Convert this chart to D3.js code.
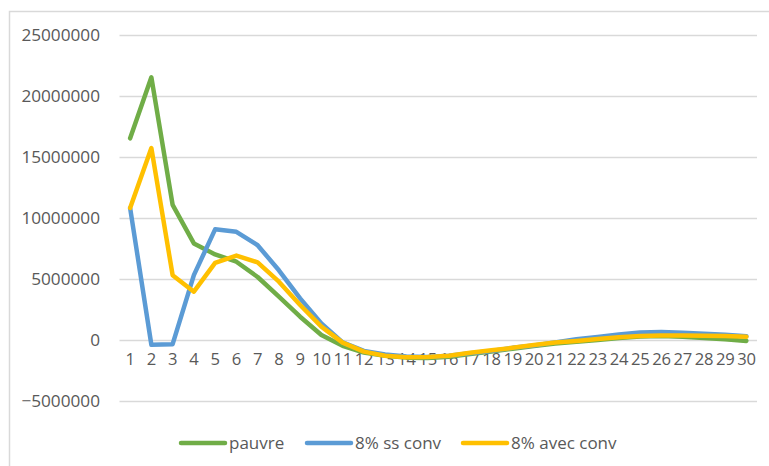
<!DOCTYPE html>
<html>
<head>
<meta charset="utf-8">
<script src="https://cdn.jsdelivr.net/npm/d3@7"></script>
<style>
  html, body { margin: 0; padding: 0; background: #fff; }
  svg { display: block; font-family: "Open Sans", "Liberation Sans", sans-serif; }
</style>
</head>
<body>
<svg id="chart" width="769" height="466"></svg>
<script>
const categories = d3.range(1, 31).map(String);
const seriesNames = ["pauvre", "8% ss conv", "8% avec conv"];
const pauvre = [16500000, 21500000, 11050000, 7900000, 7000000, 6400000, 5150000, 3550000, 1900000, 400000,
  -480000, -1030000, -1300000, -1450000, -1480000, -1380000, -1150000, -950000, -720000, -500000,
  -300000, -150000, 0, 150000, 280000, 320000, 250000, 150000, 50000, -80000];
const ssConv = [10800000, -400000, -350000, 5300000, 9050000, 8850000, 7750000, 5700000, 3400000, 1350000,
  -200000, -900000, -1200000, -1350000, -1400000, -1300000, -1100000, -900000, -650000, -450000,
  -200000, 50000, 250000, 450000, 600000, 640000, 580000, 500000, 420000, 300000];
const avecConv = [10800000, 15700000, 5300000, 3950000, 6300000, 6900000, 6350000, 4770000, 2860000, 1090000,
  -220000, -960000, -1300000, -1420000, -1400000, -1300000, -1050000, -850000, -650000, -420000,
  -220000, -80000, 80000, 220000, 320000, 370000, 370000, 350000, 320000, 250000];
const yTicks = [-5000000, 0, 5000000, 10000000, 15000000, 20000000, 25000000];
const colors = ["#70AD47", "#5B9BD5", "#FFC000"];
const allSeries = [pauvre, ssConv, avecConv];

const svg = d3.select("#chart");
const plot = { left: 119.5, right: 757, top: 34.5, bottom: 401 };

// frame
svg.append("path")
  .attr("d", `M9.5,466 V11.5 H769`)
  .attr("fill", "none").attr("stroke", "#d9d9d9").attr("stroke-width", 1.5);

const x = d3.scaleBand().domain(categories).range([plot.left, plot.right]);
const y = d3.scaleLinear().domain([-5000000, 25000000]).range([plot.bottom, plot.top]);

// gridlines
svg.append("g").selectAll("line").data(yTicks).join("line")
  .attr("x1", plot.left).attr("x2", plot.right)
  .attr("y1", d => Math.round(y(d)) + 0.5).attr("y2", d => Math.round(y(d)) + 0.5)
  .attr("stroke", "#d9d9d9").attr("stroke-width", 1.3);

// y axis labels
const yAxis = d3.axisLeft(y).tickValues(yTicks).tickSize(0).tickPadding(0).tickFormat(d3.format("d"));
const yg = svg.append("g").attr("transform", `translate(100,0)`).call(yAxis);
yg.select(".domain").remove();
yg.selectAll("text").attr("fill", "#595959").attr("font-size", "17.2px")
  .attr("font-family", '"Open Sans", sans-serif');

// x axis labels at zero line
const xAxis = d3.axisBottom(x).tickSize(0).tickPadding(0);
const xg = svg.append("g").attr("transform", `translate(0,${y(0) + 13})`).call(xAxis);
xg.select(".domain").remove();
xg.selectAll("text").attr("fill", "#595959").attr("font-size", "16.6px")
  .attr("letter-spacing", "-0.3px")
  .attr("font-family", '"Open Sans", sans-serif');

// lines
const line = d3.line()
  .x((d, i) => x(categories[i]) + x.bandwidth() / 2)
  .y(d => y(d))
  .curve(d3.curveLinear);

svg.append("g").selectAll("path").data(allSeries).join("path")
  .attr("d", d => line(d))
  .attr("fill", "none")
  .attr("stroke", (d, i) => colors[i])
  .attr("stroke-width", 4.5)
  .attr("stroke-linejoin", "round")
  .attr("stroke-linecap", "round");

// legend
const legendX = [181, 307, 463];
const lg = svg.append("g").attr("transform", "translate(0,443)");
const items = lg.selectAll("g").data(seriesNames).join("g")
  .attr("transform", (d, i) => `translate(${legendX[i]},0)`);
items.append("line").attr("x1", 0).attr("x2", 44).attr("y1", 0).attr("y2", 0)
  .attr("stroke", (d, i) => colors[i]).attr("stroke-width", 4.5).attr("stroke-linecap", "round");
items.append("text").attr("x", 48).attr("y", 0).attr("dy", "0.35em")
  .attr("fill", "#595959").attr("font-size", "17px")
  .text(d => d);
</script>
</body>
</html>
